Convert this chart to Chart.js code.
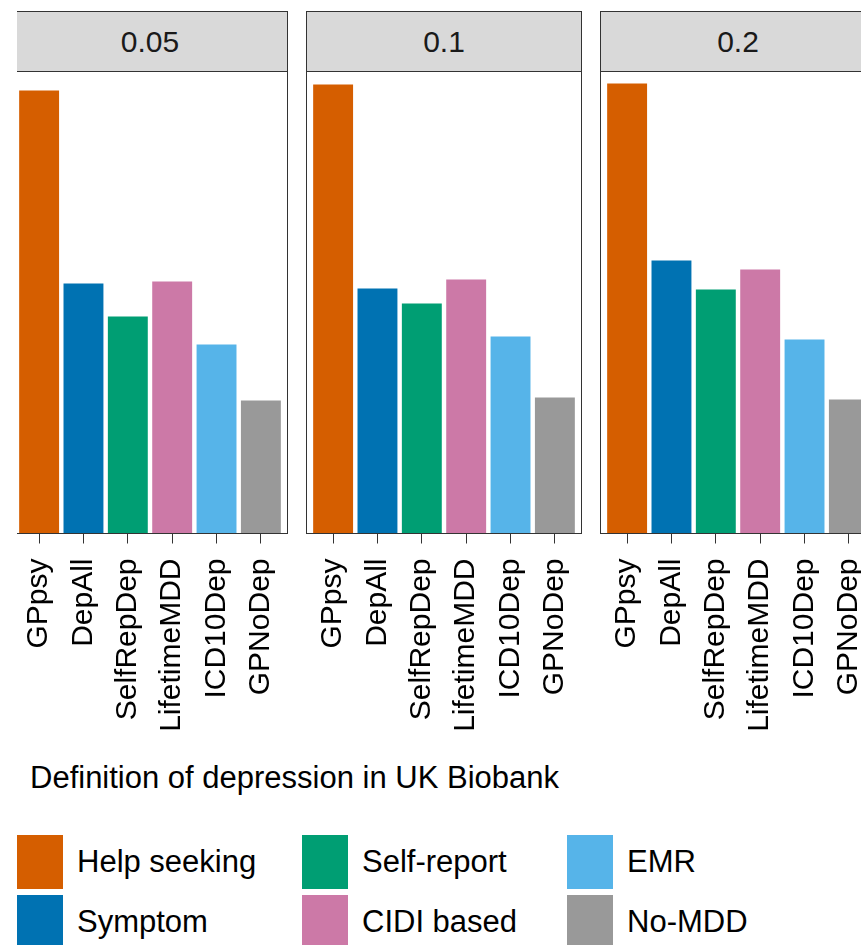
<!DOCTYPE html>
<html>
<head>
<meta charset="utf-8">
<title>Definition of depression in UK Biobank</title>
<script src="https://cdn.jsdelivr.net/npm/chart.js@4.4.1/dist/chart.umd.min.js"></script>
<style>
  html, body { margin: 0; padding: 0; background: #fff; overflow: hidden; }
  #fig {
    position: relative; width: 861px; height: 945px; overflow: hidden;
    font-family: "Liberation Sans", Arial, Helvetica, sans-serif; color: #000;
  }
  /* clip box: the left edge of the first panel is cut off in the original */
  #plots { position: absolute; left: 17px; top: 0; width: 844px; height: 760px; overflow: hidden; }
  .strip {
    position: absolute; top: 11px; height: 61px; width: 276px; box-sizing: border-box;
    border: 1px solid #333; background: #d9d9d9; color: #1a1a1a;
    font-size: 30px; line-height: 59px; text-align: center;
  }
  #plots canvas { position: absolute; top: 70px; }
  #xtitle { position: absolute; left: 30px; top: 762px; font-size: 31px; line-height: 31px; white-space: nowrap; }
  .key { position: absolute; width: 46px; height: 54px; }
  .lab { position: absolute; font-size: 31px; line-height: 54px; white-space: nowrap; }
</style>
</head>
<body>
<div id="fig">
  <div id="plots"></div>
  <div id="xtitle">Definition of depression in UK Biobank</div>
  <div id="legend"></div>
</div>
<script>
// facets (p-value thresholds) and x categories
const thresholds = ['0.05', '0.1', '0.2'];
const definitions = ['GPpsy', 'DepAll', 'SelfRepDep', 'LifetimeMDD', 'ICD10Dep', 'GPNoDep'];

// bar heights (y axis is not shown, arbitrary units)
const values005 = [4.43, 2.50, 2.17, 2.52, 1.89, 1.33];
const values01  = [4.49, 2.45, 2.30, 2.54, 1.97, 1.36];
const values02  = [4.50, 2.73, 2.44, 2.64, 1.94, 1.34];
const yMax = 4.62;

// legend groups, one per definition
const groups = ['Help seeking', 'Symptom', 'Self-report', 'CIDI based', 'EMR', 'No-MDD'];
const colors = ['#D55E00', '#0072B2', '#009E73', '#CC79A7', '#56B4E9', '#999999'];

const panelValues = [values005, values01, values02];
const panelLeft = [12, 306, 600];   // page x of each panel's left border
const font = "'Liberation Sans', Arial, Helvetica, sans-serif";

// border round the plotting area (like ggplot's panel.border)
const panelBorder = {
  id: 'panelBorder',
  afterDatasetsDraw(chart) {
    const { ctx, chartArea: a } = chart;
    ctx.save();
    ctx.strokeStyle = '#333333';
    ctx.lineWidth = 1;
    ctx.strokeRect(a.left, a.top, a.right - a.left, a.bottom - a.top);
    ctx.restore();
  }
};

const plots = document.getElementById('plots');

thresholds.forEach((thr, p) => {
  const left = panelLeft[p] - 17;

  const strip = document.createElement('div');
  strip.className = 'strip';
  strip.style.left = left + 'px';
  strip.textContent = thr;
  plots.appendChild(strip);

  const canvas = document.createElement('canvas');
  canvas.width = 278;
  canvas.height = 684;
  canvas.style.left = (left - 1) + 'px';
  plots.appendChild(canvas);

  new Chart(canvas.getContext('2d'), {
    type: 'bar',
    data: {
      datasets: [{
        data: panelValues[p].map((v, i) => ({ x: i, y: v })),
        backgroundColor: colors,
        borderWidth: 0,
        categoryPercentage: 1,
        barPercentage: 0.9
      }]
    },
    options: {
      responsive: false,
      animation: false,
      devicePixelRatio: 1,
      layout: { padding: { top: 1.5, left: 1.5, right: 1.5, bottom: 0 } },
      plugins: { legend: { display: false }, tooltip: { enabled: false } },
      scales: {
        x: {
          type: 'linear',
          offset: false,
          min: -0.6,
          max: definitions.length - 0.4,
          afterBuildTicks: s => { s.ticks = definitions.map((d, i) => ({ value: i })); },
          afterFit: s => {
            s.height = 220.5;
            s.paddingLeft = 0;
            s.paddingRight = 0;
          },
          border: { display: false },
          grid: { offset: false, drawOnChartArea: false, drawTicks: true, tickLength: 10, tickColor: '#333333', lineWidth: 1 },
          ticks: {
            autoSkip: false,
            minRotation: 90,
            maxRotation: 90,
            padding: 15,
            color: '#000',
            font: { family: font, size: 30 },
            callback: v => definitions[v]
          }
        },
        y: { display: false, min: 0, max: yMax }
      }
    },
    plugins: [panelBorder]
  });
});

// legend, filled column by column (3 columns x 2 rows)
const legend = document.getElementById('legend');
const keyLeft = [17, 302, 567];
const keyTop = [835, 895];
groups.forEach((g, i) => {
  const col = Math.floor(i / 2), row = i % 2;
  const key = document.createElement('div');
  key.className = 'key';
  key.style.left = keyLeft[col] + 'px';
  key.style.top = keyTop[row] + 'px';
  key.style.background = colors[i];
  legend.appendChild(key);
  const lab = document.createElement('div');
  lab.className = 'lab';
  lab.style.left = (keyLeft[col] + 60) + 'px';
  lab.style.top = keyTop[row] + 'px';
  lab.textContent = g;
  legend.appendChild(lab);
});
</script>
</body>
</html>
